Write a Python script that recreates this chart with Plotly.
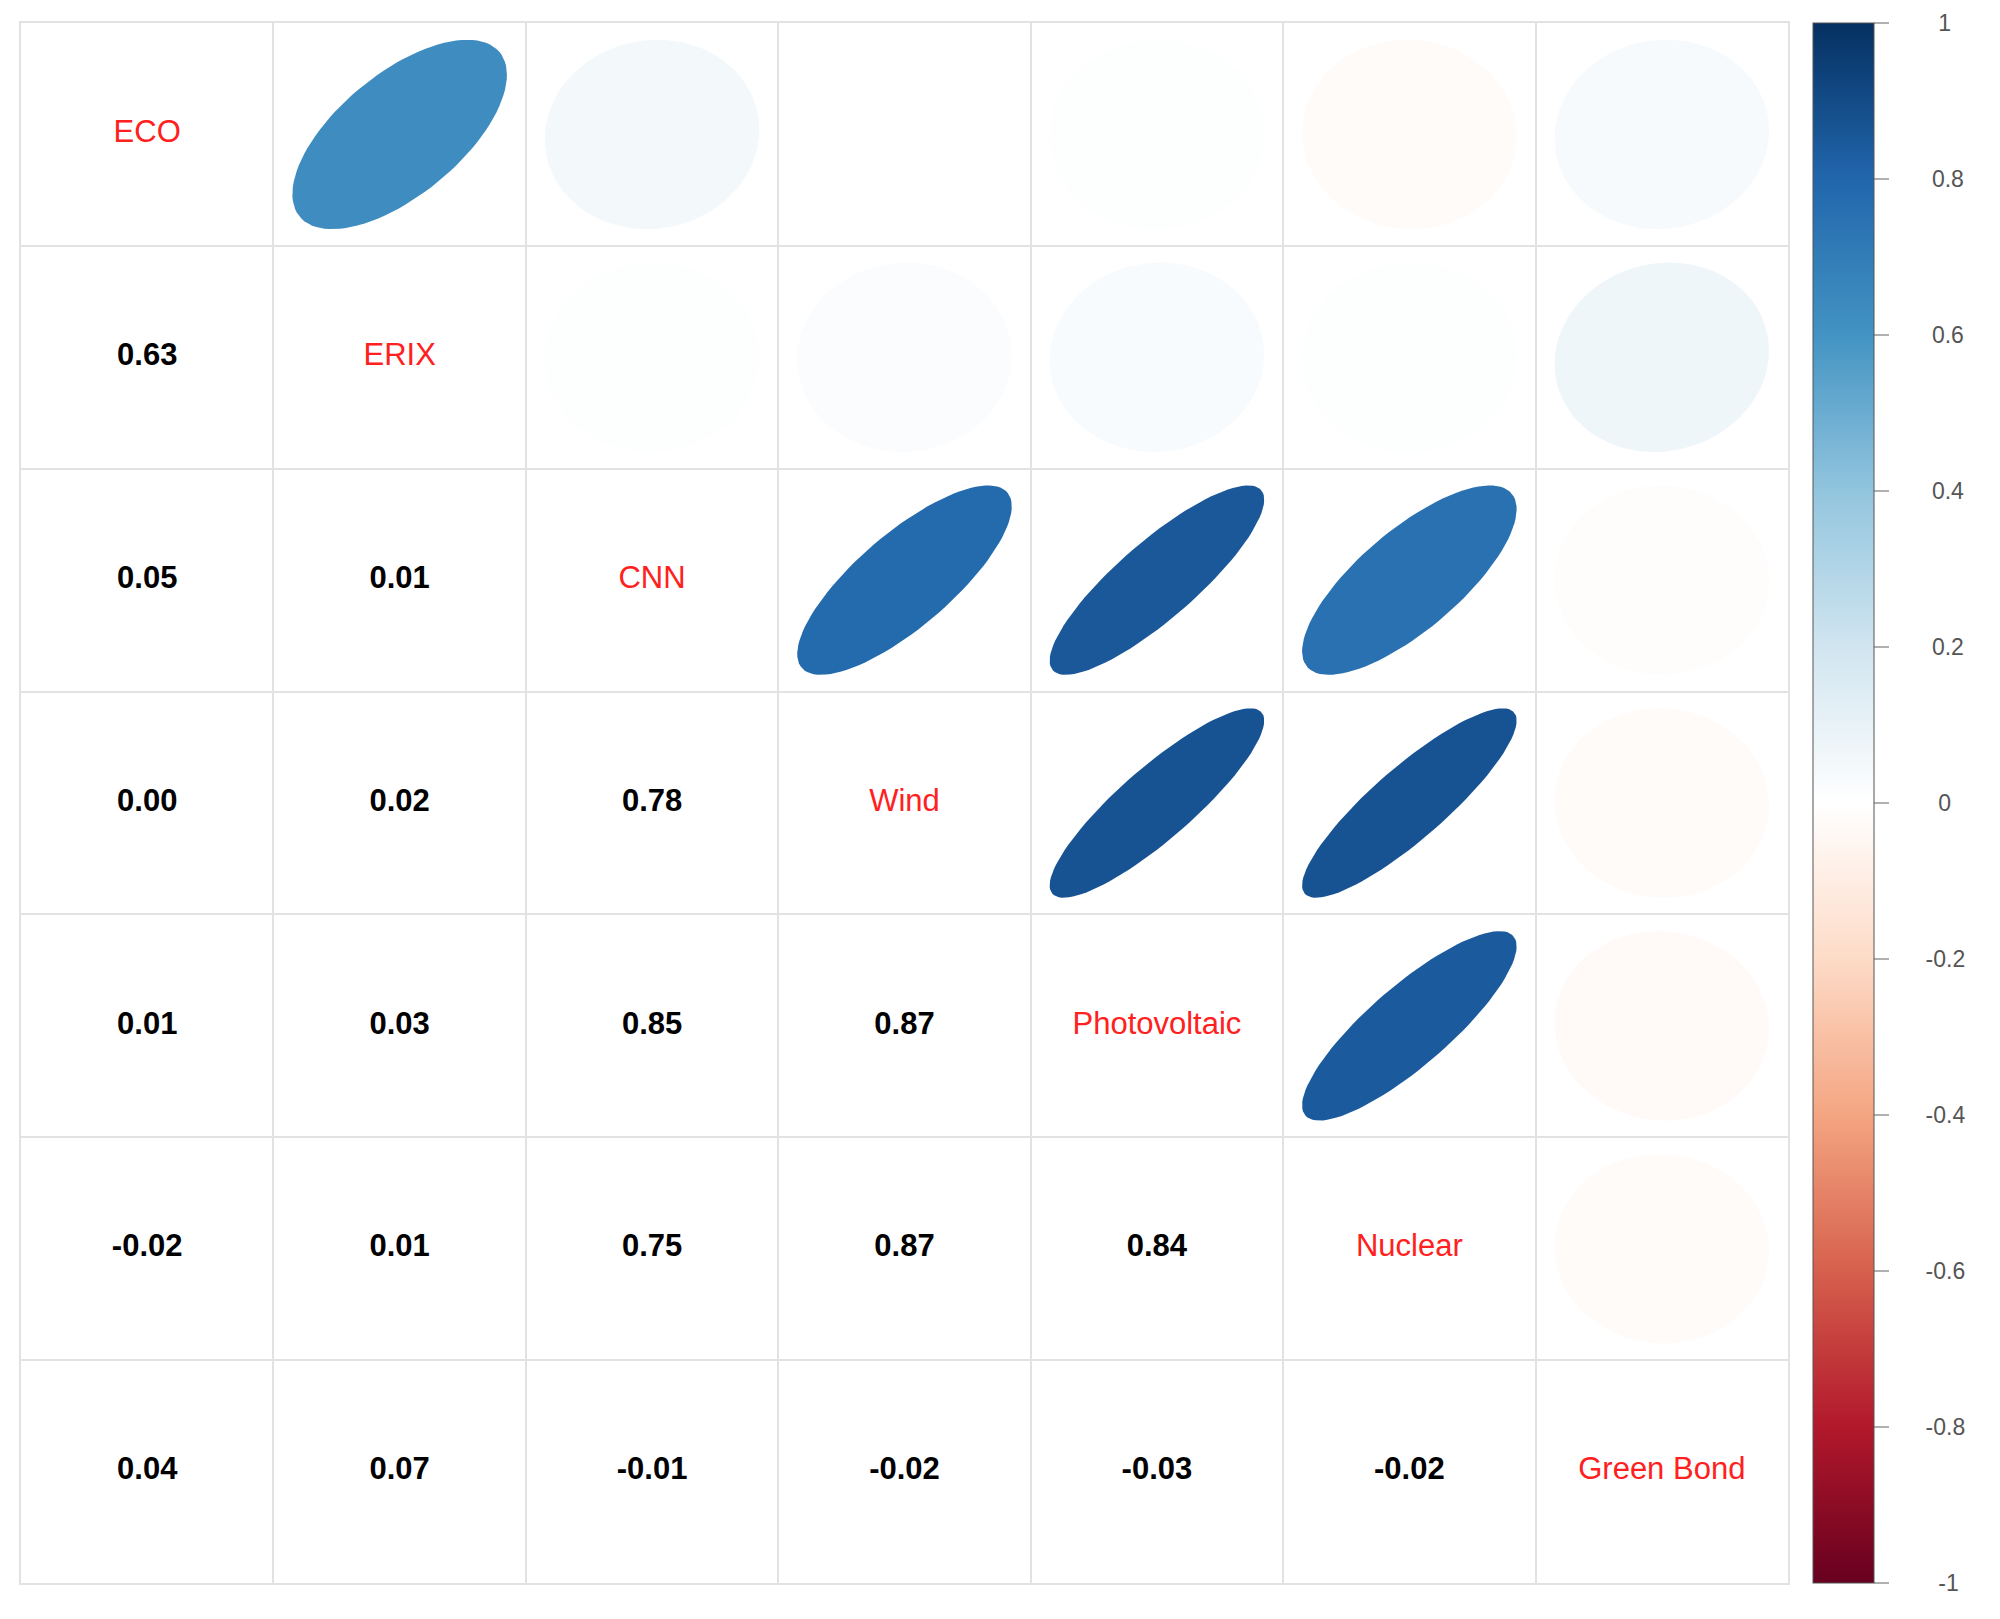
import numpy as np
import plotly.graph_objects as go
from plotly.colors import sample_colorscale, hex_to_rgb

# variables (diagonal labels)
labels = ["ECO", "ERIX", "CNN", "Wind", "Photovoltaic", "Nuclear", "Green Bond"]

# lower triangle of the correlation matrix, row by row
corr_rows = [
    [],
    [0.63],
    [0.05, 0.01],
    [0.00, 0.02, 0.78],
    [0.01, 0.03, 0.85, 0.87],
    [-0.02, 0.01, 0.75, 0.87, 0.84],
    [0.04, 0.07, -0.01, -0.02, -0.03, -0.02],
]

cb_ticks = [1, 0.8, 0.6, 0.4, 0.2, 0, -0.2, -0.4, -0.6, -0.8, -1]
cb_text = ["1", "0.8", "0.6", "0.4", "0.2", "0", "-0.2", "-0.4", "-0.6", "-0.8", "-1"]

# corrplot's RdBu palette
rdbu_hex = ["#67001F", "#B2182B", "#D6604D", "#F4A582", "#FDDBC7", "#FFFFFF",
            "#D1E5F0", "#92C5DE", "#4393C3", "#2166AC", "#053061"]
colorscale = [[i / 10, "rgb(%d,%d,%d)" % hex_to_rgb(c)] for i, c in enumerate(rdbu_hex)]

n = len(labels)
FONT = "Liberation Sans, Arial, sans-serif"

fig = go.Figure()

# upper triangle: ellipses (mirror of lower triangle)
k = np.linspace(0, 2 * np.pi, 100)
for i in range(n):
    for j in range(i + 1, n):
        r = corr_rows[j][i]
        d = np.arccos(r)
        ex = 0.425 * np.cos(k + d / 2)
        ey = 0.425 * np.cos(k - d / 2)
        col = sample_colorscale(colorscale, [(r + 1) / 2])[0]
        fig.add_trace(go.Scatter(x=(j + 1) + ex, y=(i + 1) - ey, mode="lines",
                                 fill="toself", fillcolor=col, line=dict(width=0),
                                 hoverinfo="skip", showlegend=False))

# lower triangle: numbers
nx, ny, nt = [], [], []
for i in range(n):
    for j, v in enumerate(corr_rows[i]):
        nx.append(j + 1)
        ny.append(i + 1)
        nt.append("%.2f" % v)
fig.add_trace(go.Scatter(x=nx, y=ny, text=nt, mode="text", showlegend=False,
                         textfont=dict(family=FONT, size=31, color="black", weight="bold")))

# diagonal labels
fig.add_trace(go.Scatter(x=list(range(1, n + 1)), y=list(range(1, n + 1)), text=labels,
                         mode="text", showlegend=False,
                         textfont=dict(family=FONT, size=31, color="#ff2020")))

# roughly centre the colorbar labels
pad = {1: 7, 2: 7, 3: 6, 4: 5}
cb_labels = ["\u00a0" * pad[len(t)] + t for t in cb_text]

# colorbar host
fig.add_trace(go.Scatter(x=[1], y=[1], mode="markers", showlegend=False, hoverinfo="skip",
                         marker=dict(color=[0], cmin=-1, cmax=1, colorscale=colorscale,
                                     opacity=0, size=1, showscale=True,
                                     colorbar=dict(
                                         x=(1805 - 13) / 1767, xanchor="left", xpad=0,
                                         y=0.5, yanchor="middle", ypad=0, len=1,
                                         thickness=61, outlinewidth=1, outlinecolor="#555",
                                         tickmode="array", tickvals=cb_ticks,
                                         ticktext=cb_labels,
                                         ticks="outside", ticklen=15, tickwidth=2,
                                         tickcolor="#b0b0b0",
                                         tickfont=dict(family=FONT, size=23, color="#555")))))

grid = [x + 0.5 for x in range(n + 1)]
axis_style = dict(tickvals=grid, showticklabels=False, ticks="", showgrid=True,
                  gridcolor="#e2e2e2", gridwidth=2, zeroline=False, showline=True,
                  mirror=True, linecolor="#e2e2e2", linewidth=2)
fig.update_xaxes(range=[0.5, n + 0.5], **axis_style)
fig.update_yaxes(range=[n + 0.5, 0.5], **axis_style)

fig.update_layout(width=2000, height=1619, plot_bgcolor="white", paper_bgcolor="white",
                  margin=dict(l=13, r=220, t=15, b=44), showlegend=False)

fig.write_html("out.html")
